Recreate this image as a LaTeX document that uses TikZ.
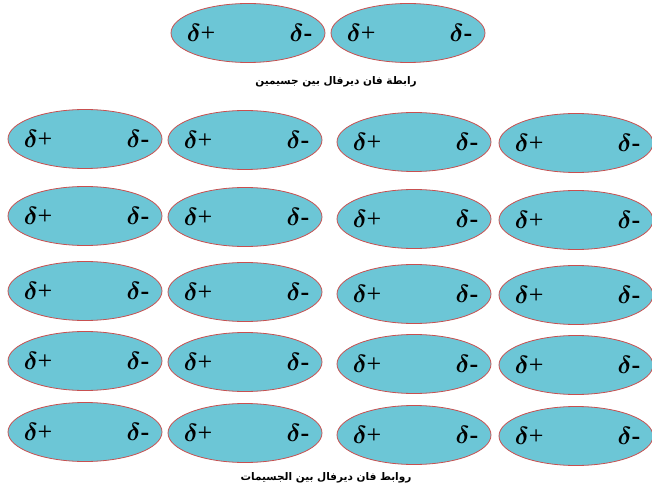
\documentclass[tikz,border=0pt]{standalone}
\usepackage{amsmath}
\usepackage{fontspec}
\setmainfont{Liberation Serif}
\newfontfamily\arabicfont[Script=Arabic]{DejaVu Sans}
\TeXXeTstate=1
\usepackage{xcolor}
\usetikzlibrary{shapes.geometric}
\definecolor{celeste}{RGB}{108,198,214}
\definecolor{borde}{RGB}{200,80,80}
\tikzset{
  molecula/.style = {ellipse, draw=borde, fill=celeste, line width=0.8pt,
                     minimum width=154pt, minimum height=59pt, inner sep=0pt},
  carga/.style    = {font=\fontsize{26}{28}\selectfont, inner sep=0pt},
  leyenda/.style  = {font=\arabicfont\bfseries\fontsize{10.5}{12}\selectfont, inner sep=0pt}
}
\newcommand{\dpos}{$\boldsymbol{\delta}$+}
\newcommand{\dneg}{$\boldsymbol{\delta}$\textbf{-}}

\begin{document}
\begin{tikzpicture}[x=1pt, y=-1pt]
  \useasboundingbox (0,0) rectangle (652,502);
  % dos moleculas
  \foreach \n/\xx in {1/248,2/408}{
    \node[molecula] (par-\n) at (\xx,33) {};
    \node[carga, anchor=west] (par-\n-pos) at ([xshift=16pt]par-\n.west) {\dpos};
    \node[carga, anchor=east] (par-\n-neg) at ([xshift=-13pt]par-\n.east) {\dneg};
  }
  \node[leyenda] (tit-par) at (336,82) {\beginR رابطة فان ديرفال بين جسيمين\endR};
  % red de moleculas
  \foreach \fila/\yy in {1/139,2/216,3/291,4/361,5/432}{
    \foreach \col/\xx/\dy in {1/85/0,2/245/1,3/414/3,4/576/4}{
      \node[molecula] (m-\fila-\col) at (\xx,\yy+\dy) {};
      \node[carga, anchor=west] (m-\fila-\col-pos) at ([xshift=16pt]m-\fila-\col.west) {\dpos};
      \node[carga, anchor=east] (m-\fila-\col-neg) at ([xshift=-13pt]m-\fila-\col.east) {\dneg};
    }
  }
  \node[leyenda] (tit-red) at (326,478) {\beginR روابط فان ديرفال بين الجسيمات\endR};
\end{tikzpicture}
\end{document}
